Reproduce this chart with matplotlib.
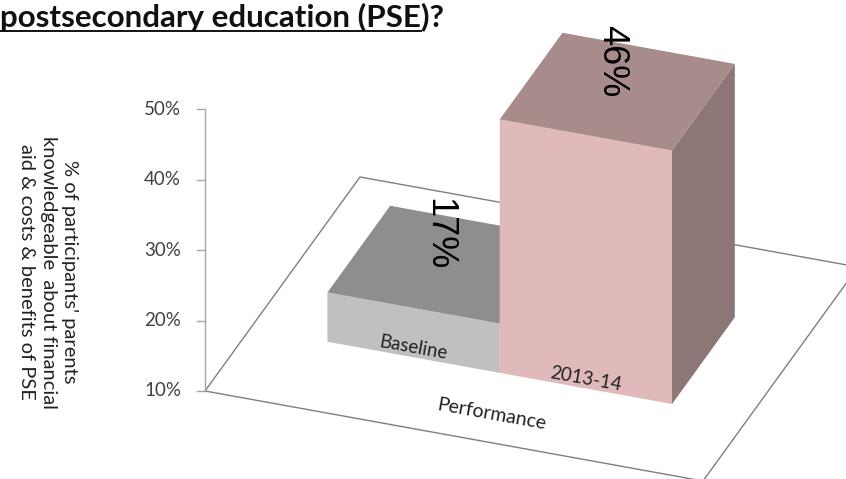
import matplotlib.pyplot as plt
from matplotlib.patches import Polygon

categories = ["Baseline", "2013-14"]
values = [17, 46]
value_labels = ["17%", "46%"]
ticks = [10, 20, 30, 40, 50]
tick_labels = ["10%", "20%", "30%", "40%", "50%"]
axis_title = "Performance"
ylabel = "% of participants' parents\nknowledgeable  about financial\naid & costs & benefits of PSE"
title = "postsecondary education (PSE)?"
title_underlined = "postsecondary education (PSE"

FRONT = ["#c0c0c0", "#e0baba"]
TOP = ["#8e8e8e", "#a88b8b"]
SIDE = ["#7a7a7a", "#8c7676"]
FONT = "Lato"

# oblique projection (pixels): floor origin, width vec, depth vec, px per percent
ORIGIN = (205.0, 391.0)
WVEC = (498.0, 90.0)
DVEC = (155.0, -214.0)
PX_PER_PCT = 7.04
VMIN = 10
BAR_W = 0.346
BAR_X0 = 0.154
DEPTH = (0.295, 0.70)


def proj(a, b, v):
    x = ORIGIN[0] + a * WVEC[0] + b * DVEC[0]
    y = ORIGIN[1] + a * WVEC[1] + b * DVEC[1] - (v - VMIN) * PX_PER_PCT
    return (x, y)


fig = plt.figure(figsize=(8.46, 4.79), dpi=100)
ax = fig.add_axes([0, 0, 1, 1])
ax.set_xlim(0, 846)
ax.set_ylim(479, 0)
ax.axis("off")

# floor
floor = [proj(0, 0, VMIN), proj(1, 0, VMIN), proj(1, 1, VMIN), proj(0, 1, VMIN)]
ax.add_patch(Polygon(floor, closed=True, facecolor="white", edgecolor="#7f7f7f", lw=1.0))

# vertical axis
x0, ybot = proj(0, 0, ticks[0])
_, ytop = proj(0, 0, ticks[-1])
ax.plot([x0, x0], [ybot, ytop], color="#a6a6a6", lw=1.0)
for t, lab in zip(ticks, tick_labels):
    _, yt = proj(0, 0, t)
    ax.plot([x0 - 8, x0], [yt, yt], color="#a6a6a6", lw=1.0)
    ax.text(x0 - 24, yt, lab, ha="right", va="center", fontsize=13.5,
            family=FONT, color="#404040")

ax.text(48, 272, ylabel, rotation=270, ha="center", va="center", fontsize=14.5,
        family=FONT, color="#222222", linespacing=1.3, multialignment="center")

# bars
for i, (cat, v) in enumerate(zip(categories, values)):
    a0 = BAR_X0 + i * BAR_W
    a1 = a0 + BAR_W
    b0, b1 = DEPTH
    front = [proj(a0, b0, VMIN), proj(a1, b0, VMIN), proj(a1, b0, v), proj(a0, b0, v)]
    side = [proj(a1, b0, VMIN), proj(a1, b1, VMIN), proj(a1, b1, v), proj(a1, b0, v)]
    top = [proj(a0, b0, v), proj(a1, b0, v), proj(a1, b1, v), proj(a0, b1, v)]
    ax.add_patch(Polygon(side, closed=True, facecolor=SIDE[i], edgecolor="none"))
    ax.add_patch(Polygon(front, closed=True, facecolor=FRONT[i], edgecolor="none"))
    ax.add_patch(Polygon(top, closed=True, facecolor=TOP[i], edgecolor="none"))

    cx, cy = proj((a0 + a1) / 2, b0, VMIN + 1.4)
    ax.text(cx, cy, cat, ha="center", va="center", rotation=-10.2, fontsize=13.5,
            family=FONT, color="#222222")
    tx, ty = proj((a0 + a1) / 2 - 0.05, 0.62, v)
    ax.text(tx, ty, value_labels[i], ha="center", va="center", rotation=270,
            fontsize=26, family="Liberation Sans", color="black")

px, py = proj(0.5, 0.0, VMIN)
ax.text(px + 38, py - 22, axis_title, ha="center", va="center", rotation=-10.2,
        fontsize=14, family=FONT, color="#222222")

# title (cut off at the top, underlined up to "PSE")
t = ax.text(0, 27, title, ha="left", va="baseline", fontsize=20, fontweight="bold",
            family=FONT, color="#111111")
r = fig.canvas.get_renderer()
w = t.get_window_extent(r).width
t.set_fontsize(20 * 445 / w)
u = ax.text(0, 27, title_underlined, ha="left", va="baseline", fontsize=20 * 445 / w,
            fontweight="bold", family=FONT, alpha=0)
uw = u.get_window_extent(r).width
ax.plot([0, uw], [31, 31], color="#111111", lw=1.4)

fig.savefig("out.png", dpi=100, facecolor="white")
